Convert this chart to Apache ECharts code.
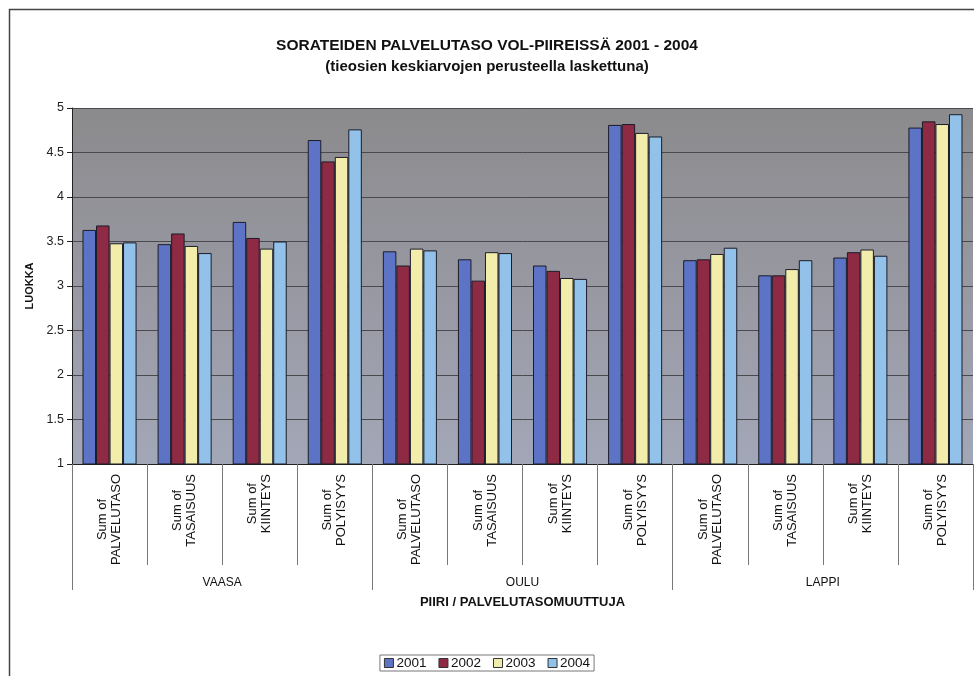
<!DOCTYPE html>
<html>
<head>
<meta charset="utf-8">
<script src="https://cdn.jsdelivr.net/npm/echarts@6/dist/echarts.min.js"></script>
<style>
  html, body { margin: 0; padding: 0; background: #ffffff; }
  #chart { width: 974px; height: 676px; }
</style>
</head>
<body>
<div id="chart"></div>
<script>
// Road districts and the service-level variables measured in each
const districts = ['VAASA', 'OULU', 'LAPPI'];
const variables = ['PALVELUTASO', 'TASAISUUS', 'KIINTEYS', 'POLYISYYS'];
const categories = [];
districts.forEach(function (d) {
  variables.forEach(function (v) { categories.push(d + '|' + v); });
});

// Average class per year (VAASA x4, OULU x4, LAPPI x4)
const years = ['2001', '2002', '2003', '2004'];
const v2001 = [3.63, 3.47, 3.72, 4.64, 3.39, 3.30, 3.23, 4.81, 3.29, 3.12, 3.32, 4.78];
const v2002 = [3.68, 3.59, 3.54, 4.40, 3.23, 3.06, 3.17, 4.82, 3.30, 3.12, 3.38, 4.85];
const v2003 = [3.48, 3.45, 3.42, 4.45, 3.42, 3.38, 3.09, 4.72, 3.36, 3.19, 3.41, 4.82];
const v2004 = [3.49, 3.37, 3.50, 4.76, 3.40, 3.37, 3.08, 4.68, 3.43, 3.29, 3.34, 4.93];
const yTicks = [1, 1.5, 2, 2.5, 3, 3.5, 4, 4.5, 5];

const colors = ['#5d73c6', '#8e2a44', '#f2edaa', '#92c2ea'];
const seriesValues = [v2001, v2002, v2003, v2004];

const chart = echarts.init(document.getElementById('chart'), null, { renderer: 'canvas' });

const font = 'Arial, "Liberation Sans", sans-serif';

chart.setOption({
  animation: false,
  backgroundColor: '#ffffff',
  textStyle: { fontFamily: font },
  title: {
    text: 'SORATEIDEN PALVELUTASO VOL-PIIREISSÄ 2001 - 2004',
    subtext: '(tieosien keskiarvojen perusteella laskettuna)',
    left: 'center',
    top: 33,
    itemGap: 5,
    textStyle: { fontFamily: font, fontSize: 15.5, fontWeight: 'bold', color: '#111' },
    subtextStyle: { fontFamily: font, fontSize: 15, fontWeight: 'bold', color: '#111' }
  },
  legend: {
    data: years,
    icon: 'rect',
    bottom: 5,
    left: 'center',
    itemWidth: 9,
    itemHeight: 9,
    itemGap: 12,
    padding: [1, 4],
    borderColor: '#777',
    borderWidth: 1,
    borderRadius: 0,
    backgroundColor: '#ffffff',
    itemStyle: { borderColor: '#333', borderWidth: 1 },
    textStyle: { fontFamily: font, fontSize: 13.5, color: '#111', padding: [0, 0, 0, -2] }
  },
  grid: {
    left: 72,
    right: 1,
    top: 108,
    bottom: 212,
    show: true,
    borderWidth: 0,
    backgroundColor: {
      type: 'linear', x: 0, y: 0, x2: 0, y2: 1,
      colorStops: [
        { offset: 0, color: '#8b8b8d' },
        { offset: 0.5, color: '#9898a2' },
        { offset: 1, color: '#a2a7b7' }
      ]
    }
  },
  xAxis: [
    {
      type: 'category',
      data: categories,
      position: 'bottom',
      axisLine: { show: true, lineStyle: { color: '#222', width: 1 } },
      axisTick: { show: true, length: 101, lineStyle: { color: '#777' } },
      axisLabel: {
        rotate: 90,
        margin: 10,
        interval: 0,
        fontFamily: font,
        fontSize: 13,
        lineHeight: 14,
        color: '#111',
        formatter: function (val) {
          return '{a|Sum of}\n{a|' + val.split('|')[1] + '}';
        },
        rich: { a: { align: 'center', fontFamily: font, fontSize: 13, lineHeight: 14, color: '#111' } }
      }
    },
    {
      type: 'category',
      data: districts,
      position: 'bottom',
      offset: 126,
      axisLine: { show: false },
      axisTick: { show: true, inside: true, length: 126, lineStyle: { color: '#777' } },
      axisLabel: { inside: true, margin: 1, fontFamily: font, fontSize: 12, color: '#111' },
      name: 'PIIRI / PALVELUTASOMUUTTUJA',
      nameLocation: 'middle',
      nameGap: 8,
      nameTextStyle: { fontFamily: font, fontSize: 13, fontWeight: 'bold', color: '#111', verticalAlign: 'middle', padding: [6, 0, 0, 0] }
    }
  ],
  yAxis: {
    type: 'value',
    min: yTicks[0],
    max: yTicks[yTicks.length - 1],
    interval: 0.5,
    name: 'LUOKKA',
    nameLocation: 'middle',
    nameGap: 31,
    nameRotate: 90,
    nameTextStyle: { fontFamily: font, fontSize: 11, fontWeight: 'bold', color: '#111' },
    axisLine: { show: true, lineStyle: { color: '#222', width: 1 } },
    axisTick: { show: true, length: 5, lineStyle: { color: '#222' } },
    axisLabel: { fontFamily: font, fontSize: 12.5, color: '#222', margin: 8 },
    splitLine: { show: true, lineStyle: { color: '#4a4a4e', width: 1 } }
  },
  series: years.map(function (y, i) {
    return {
      name: y,
      type: 'bar',
      xAxisIndex: 0,
      data: seriesValues[i],
      barGap: '0%',
      barCategoryGap: '28%',
      itemStyle: { color: colors[i], borderColor: '#1c1c28', borderWidth: 1 }
    };
  }),
  graphic: [
    {
      type: 'rect',
      silent: true,
      z: -1,
      shape: { x: 9.5, y: 9.5, width: 1000, height: 700 },
      style: { fill: 'none', stroke: '#444', lineWidth: 1.5 }
    }
  ]
});
</script>
</body>
</html>
